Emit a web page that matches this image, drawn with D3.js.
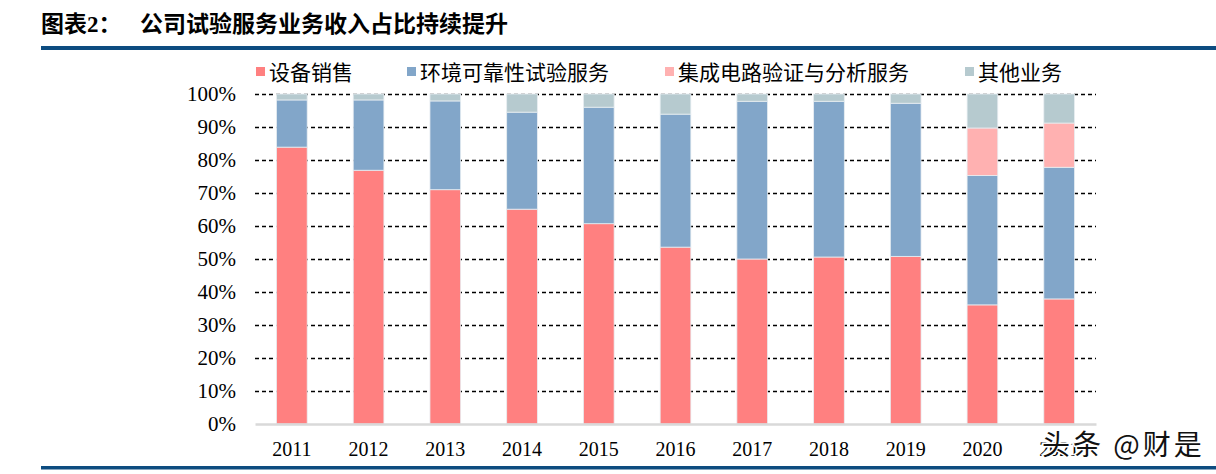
<!DOCTYPE html>
<html>
<head>
<meta charset="utf-8">
<script src="https://cdn.jsdelivr.net/npm/d3@7"></script>
<style>
  body { margin: 0; background: #fff; }
  svg { display: block; }
</style>
</head>
<body>
<svg width="1216" height="474"></svg>
<script>
// data (% of revenue, stacked)
var years = ["2011", "2012", "2013", "2014", "2015", "2016", "2017", "2018", "2019", "2020", "2021"];
var equipSales = [83.9, 76.9, 71.0, 65.1, 60.7, 53.6, 50.0, 50.6, 50.8, 36.1, 37.9];
var envTest    = [14.3, 21.3, 26.9, 29.4, 35.3, 40.3, 47.8, 47.2, 46.4, 39.2, 39.9];
var icTest     = [0, 0, 0, 0, 0, 0, 0, 0, 0, 14.4, 13.4];
var other      = [1.8, 1.8, 2.1, 5.5, 4.0, 6.1, 2.2, 2.2, 2.8, 10.3, 8.8];
var seriesNames = ["设备销售", "环境可靠性试验服务", "集成电路验证与分析服务", "其他业务"];
var seriesColors = ["#ff8080", "#82a6c9", "#ffb1b1", "#b6cacf"];
var yTicks = [0, 10, 20, 30, 40, 50, 60, 70, 80, 90, 100];

var svg = d3.select("svg"),
    margin = {top: 94, right: 120, bottom: 50, left: 255},
    width = +svg.attr("width") - margin.left - margin.right,
    height = +svg.attr("height") - margin.top - margin.bottom;

var serif = "'Liberation Serif', 'Times New Roman', serif";
var cjk = "'Noto Sans CJK SC', sans-serif";

// title + rules
var title = svg.append("text")
    .attr("x", 41).attr("y", 32)
    .attr("font-family", cjk).attr("font-weight", "bold").attr("font-size", 23);
title.append("tspan").text("图表");
title.append("tspan").attr("font-family", serif).text("2");
title.append("tspan").text("：");
svg.append("text")
    .attr("x", 140).attr("y", 32)
    .attr("font-family", cjk).attr("font-weight", "bold").attr("font-size", 23)
    .text("公司试验服务业务收入占比持续提升");
svg.append("rect").attr("x", 41).attr("y", 46).attr("width", 1175).attr("height", 4).attr("fill", "#0d4c80");
svg.append("rect").attr("x", 41).attr("y", 466).attr("width", 1175).attr("height", 3.5).attr("fill", "#0d4c80");

var g = svg.append("g").attr("transform", "translate(" + margin.left + "," + margin.top + ")");

var x = d3.scaleBand()
    .domain(years)
    .range([0, width])
    .paddingInner(0.6)
    .paddingOuter(0.28);

var y = d3.scaleLinear()
    .domain([0, 100])
    .range([height, 0]);

// gridlines
g.append("g")
    .call(d3.axisLeft(y).tickValues(yTicks.slice(1)).tickSize(-width).tickFormat(""))
    .call(function(s) {
      s.select(".domain").remove();
      s.selectAll("line").attr("stroke", "#000").attr("stroke-width", 1.4).attr("stroke-dasharray", "4,3");
    });

// y labels
g.append("g")
    .call(d3.axisLeft(y).tickValues(yTicks).tickSize(0).tickPadding(19).tickFormat(function(d) { return d + "%"; }))
    .call(function(s) {
      s.select(".domain").remove();
      s.selectAll("text").attr("font-family", serif).attr("font-size", 21).attr("fill", "#000");
    });

// stacked bars
var rows = years.map(function(yr, i) {
  return {year: yr, a: equipSales[i], b: envTest[i], c: icTest[i], d: other[i]};
});
var stack = d3.stack().keys(["a", "b", "c", "d"]);
var layers = stack(rows);

g.selectAll(".layer")
  .data(layers)
  .enter().append("g")
    .attr("class", "layer")
    .attr("fill", function(d, i) { return seriesColors[i]; })
  .selectAll("rect")
  .data(function(d) { return d; })
  .enter().append("rect")
    .attr("x", function(d) { return x(d.data.year); })
    .attr("y", function(d) { return y(d[1]); })
    .attr("width", x.bandwidth())
    .attr("height", function(d) { return y(d[0]) - y(d[1]); })
    .attr("stroke", "#e8eef2")
    .attr("stroke-width", function(d) { return d[1] - d[0] > 0 ? 0.8 : 0; });

// x axis
g.append("g")
    .attr("transform", "translate(0," + height + ")")
    .call(d3.axisBottom(x).tickSize(0).tickPadding(18))
    .call(function(s) {
      s.select(".domain").attr("stroke", "#d9d9d9").attr("stroke-width", 2.5);
      s.selectAll("text").attr("font-family", serif).attr("font-size", 20).attr("fill", "#000");
    });

// legend
var legendX = [256, 407, 665, 965];
var legend = svg.append("g").selectAll("g")
  .data(seriesNames)
  .enter().append("g")
    .attr("transform", function(d, i) { return "translate(" + legendX[i] + ",67)"; });
legend.append("rect")
    .attr("width", 9).attr("height", 9)
    .attr("fill", function(d, i) { return seriesColors[i]; });
legend.append("text")
    .attr("x", 13).attr("y", 13)
    .attr("font-family", cjk).attr("font-size", 21).attr("fill", "#000")
    .text(function(d) { return d; });

// watermark
svg.append("text")
    .attr("x", 1042).attr("y", 455)
    .attr("font-family", cjk).attr("font-size", 28).attr("letter-spacing", 3).attr("fill", "#111")
    .attr("stroke", "#fff").attr("stroke-width", 3).attr("paint-order", "stroke")
    .text("头条 @财是");
</script>
</body>
</html>
